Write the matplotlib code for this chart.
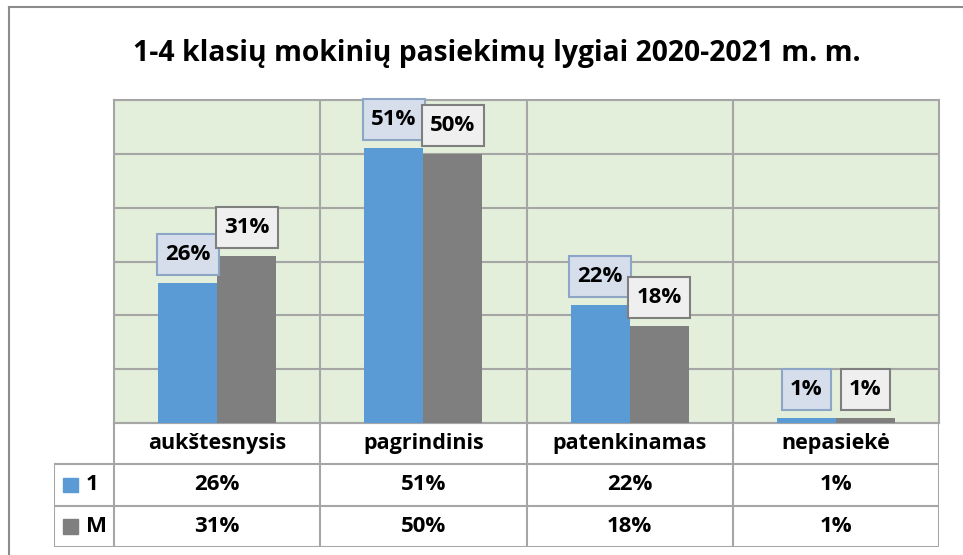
import numpy as np
import matplotlib.pyplot as plt
from matplotlib.patches import Rectangle
from matplotlib.path import Path

# chart data
title = "1-4 klasių mokinių pasiekimų lygiai 2020-2021 m. m."
categories = ["aukštesnysis", "pagrindinis", "patenkinamas", "nepasiekė"]
series_names = ["1", "M"]
values_1 = [26, 51, 22, 1]
values_m = [31, 50, 18, 1]

# styling
FONT = "Open Sans"
blue = "#5B9BD5"
grey = "#7F7F7F"
plot_bg = "#E3EFDA"
grid_col = "#A6A6A6"
box_fc = ["#D6DEEB", "#EFEFEF"]
box_ec = ["#8EA6C6", "#7F7F7F"]

W, H = 963, 555
fig = plt.figure(figsize=(W / 100, H / 100), dpi=100)
fig.patch.set_facecolor("white")


def frac(x0, y0, x1, y1):
    # pixel box (top-left origin) -> figure fraction rect
    return [x0 / W, 1 - y1 / H, (x1 - x0) / W, (y1 - y0) / H]


def label_box(x0, y0, width, height, mutation_size):
    # excel-like label frame: taller than it is padded sideways
    px, py = 0.37 * mutation_size, 0.45 * mutation_size
    return Path([(x0 - px, y0 - py), (x0 + width + px, y0 - py),
                 (x0 + width + px, y0 + height + py), (x0 - px, y0 + height + py),
                 (x0 - px, y0 - py)], closed=True)


# outer chart frame (only top and left edges are visible in the crop)
fig.add_artist(plt.Line2D([9 / W, 9 / W], [0, 1 - 7 / H], color="#8C8C8C", lw=1.5))
fig.add_artist(plt.Line2D([9 / W, 1], [1 - 7 / H, 1 - 7 / H], color="#8C8C8C", lw=1.5))

fig.text(497 / W, 1 - 53 / H, title, ha="center", va="center",
         fontsize=20.3, fontweight="bold", family=FONT)

# main plot area
ax = fig.add_axes(frac(114, 100, 939, 423))
ax.set_facecolor(plot_bg)
x = np.arange(len(categories))
bw = 0.286
series = [values_1, values_m]
colors = [blue, grey]
for i, (vals, col) in enumerate(zip(series, colors)):
    xs = x + (i - 0.5) * bw
    fracs = np.array(vals) / 100
    ax.bar(xs, fracs, width=bw, color=col, zorder=3)
    for xi, v in zip(xs, vals):
        ax.annotate(f"{v}%", xy=(xi, v / 100), xytext=(0, 20.5), textcoords="offset points",
                    ha="center", va="center", fontsize=16, fontweight="bold", family=FONT,
                    zorder=5,
                    bbox=dict(boxstyle=label_box, fc=box_fc[i], ec=box_ec[i], lw=1.5))

ax.set_xlim(-0.5, len(categories) - 0.5)
ax.set_ylim(0, 0.6)
ax.set_yticks(np.arange(0, 0.61, 0.1))
ax.set_xticks([])
ax.set_xticks(x[:-1] + 0.5, minor=True)
ax.grid(axis="y", color=grid_col, lw=1.5, zorder=1)
ax.grid(axis="x", which="minor", color=grid_col, lw=1.5, zorder=1)
ax.tick_params(left=False, bottom=False, labelleft=False, labelbottom=False,
               which="both")
for side in ["top", "left", "bottom", "right"]:
    ax.spines[side].set_color(grid_col)
    ax.spines[side].set_linewidth(1.5)

# data table under the chart
tab = fig.add_axes(frac(54, 423, 939, 547))
unit = (939 - 114) / len(categories)
left = -0.5 - (114 - 54) / unit
tab.set_xlim(left, len(categories) - 0.5)
tab.set_ylim(0, 3)
tab.axis("off")
lc = dict(color=grid_col, lw=1.5)
# horizontal lines
tab.plot([-0.5, len(categories) - 0.5], [3, 3], **lc)
for yy in [2, 1, 0]:
    tab.plot([left, len(categories) - 0.5], [yy, yy], **lc)
# vertical lines
tab.plot([left, left], [0, 2], **lc)
for xb in np.arange(len(categories) + 1) - 0.5:
    tab.plot([xb, xb], [0, 3], **lc)

for xi, cat in zip(x, categories):
    tab.text(xi, 2.5, cat, ha="center", va="center", fontsize=15.5,
             fontweight="bold", family=FONT)
for r, (name, vals, col) in enumerate(zip(series_names, series, colors)):
    yc = 1.5 - r
    tab.add_patch(Rectangle((left + 0.045, yc - 0.18), 0.073, 0.36, color=col))
    tab.text(left + 0.155, yc, name, ha="left", va="center", fontsize=16,
             fontweight="bold", family=FONT)
    for xi, v in zip(x, vals):
        tab.text(xi, yc, f"{v}%", ha="center", va="center", fontsize=16,
                 fontweight="bold", family=FONT)

fig.savefig("out.png", dpi=100)
